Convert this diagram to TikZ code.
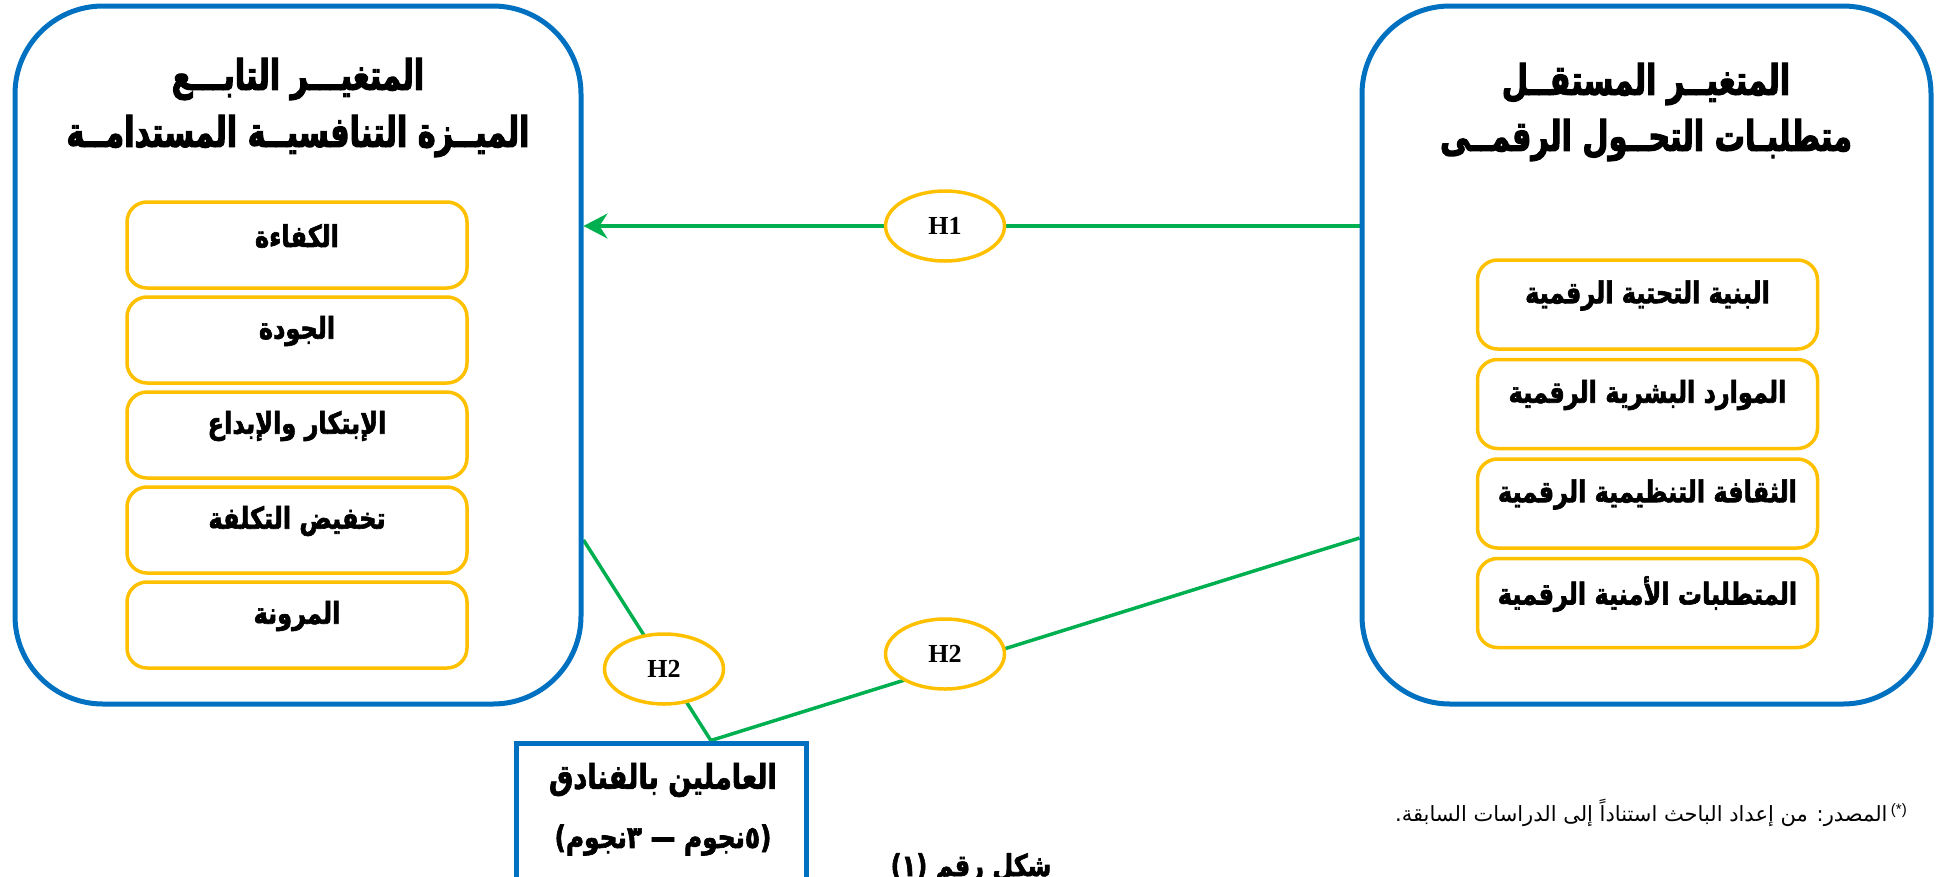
\documentclass[tikz,border=0pt]{standalone}
\usepackage{fontspec}
\setmainfont{Liberation Serif}
\newfontfamily\latinsans{Liberation Sans}
\newfontfamily\arabicfont[Script=Arabic]{DejaVu Sans}
\newfontfamily\arabicbox[Script=Arabic, BoldFeatures={FakeStretch=0.8, FakeBold=2}]{DejaVu Sans}
\newfontfamily\arabichead[Script=Arabic, BoldFeatures={FakeStretch=0.72, FakeBold=2.5}]{DejaVu Sans}
\usetikzlibrary{shapes.geometric,arrows.meta,calc,backgrounds}
\TeXXeTstate=1
\definecolor{frameblue}{RGB}{0,112,192}
\definecolor{gold}{RGB}{255,192,0}
\definecolor{linkgreen}{RGB}{0,176,80}
\newcommand{\artext}[1]{\beginR #1\endR}
\newcommand{\fsz}[1]{\fontsize{#1}{#1}\selectfont}

\begin{document}
\begin{tikzpicture}[x=1pt,y=-1pt,
  varbox/.style={draw=frameblue, line width=5pt, rounded corners=88pt,
    minimum width=566pt, minimum height=698pt, inner sep=0pt},
  dimbox/.style={draw=gold, line width=3.5pt, rounded corners=20pt,
    minimum width=340pt, inner sep=0pt, fill=white},
  dimtext/.style={font=\arabicbox\bfseries\fsz{30}, inner sep=0pt},
  titletext/.style={font=\arabichead\bfseries\fsz{42}, inner sep=0pt},
  hyp/.style={ellipse, draw=gold, line width=3.5pt, fill=white,
    minimum width=119pt, minimum height=70pt, inner sep=0pt,
    font=\bfseries\fsz{26}},
  link/.style={draw=linkgreen, line width=3.5pt},
  hotelbox/.style={draw=frameblue, line width=5pt, inner sep=0pt,
    minimum width=290pt, minimum height=160pt}
]
\useasboundingbox (0,0) rectangle (1937,876);

% dependent variable (left) and independent variable (right)
\node[varbox] (dep) at (298,355) {};
\node[varbox, minimum width=569pt] (ind) at (1646.5,355) {};

\node[titletext] (depT1) at (298,79) {\artext{المتغيـــر التابـــع}};
\node[titletext] (depT2) at (298,136) {\artext{الميــزة التنافسيــة المستدامــة}};
\node[titletext] (indT1) at (1646,84) {\artext{المتغيــر المستقــل}};
\node[titletext] (indT2) at (1646,140) {\artext{متطلبـات التحــول الرقمــى}};

% dimensions of the dependent variable
\foreach \i/\y/\t in {1/245/الكفاءة, 2/340/الجودة, 3/435/الإبتكار والإبداع,
                      4/530/تخفيض التكلفة, 5/625/المرونة} {
  \node[dimbox, minimum height=86pt] (d\i) at (297,\y) {};
  \node[dimtext] (d\i t) at ([yshift=9pt]d\i.center) {\artext{\t}};
}

% dimensions of the independent variable
\foreach \i/\y/\t in {1/304.5/البنية التحتية الرقمية, 2/404/الموارد البشرية الرقمية,
                      3/503.5/الثقافة التنظيمية الرقمية, 4/603/المتطلبات الأمنية الرقمية} {
  \node[dimbox, minimum height=89pt] (r\i) at (1647.5,\y) {};
  \node[dimtext] (r\i t) at ([yshift=9pt]r\i.center) {\artext{\t}};
}

% mediating group
\node[hotelbox] (hotel) at (661,823) {};
\node[font=\arabicbox\bfseries\fsz{34}, inner sep=0pt] (hotelT1) at (663,780)
  {\artext{العاملين بالفنادق}};
\node[font=\arabicbox\bfseries\fsz{31}, inner sep=0pt] (hotelT2) at (663,840)
  {\artext{(٥نجوم — ٣نجوم)}};

% hypothesis labels
\node[hyp] (h1) at (945,226) {H1};
\node[hyp] (h2a) at (664,669) {H2};
\node[hyp] (h2b) at (945,654) {H2};

% connector end points on the frames
\coordinate (jn) at ($(hotel.north west)!0.669!(hotel.north east)$);
\coordinate (depR) at ([yshift=-185pt]dep.east);
\coordinate (indL) at ([yshift=-183pt]ind.west);

\begin{pgfonlayer}{background}
  \draw[link, -{Stealth[length=24pt,width=25pt,inset=8pt]}]
    (ind.west |- h1.center) -- (dep.east |- h1.center);
  \draw[link] (depR) -- (jn) -- (indL);
\end{pgfonlayer}

% caption and source note
\node[font=\arabicbox\bfseries\fsz{30}, anchor=north, inner sep=0pt] (cap) at (971,853)
  {\artext{شكل رقم (١)}};
\node[font=\arabicfont\fsz{21}, anchor=east, inner sep=0pt] (src) at (1907,813)
  {\artext{المصدر: من إعداد الباحث استناداً إلى الدراسات السابقة.}\,\raisebox{7pt}{\latinsans\fsz{15}(*)}};
\end{tikzpicture}
\end{document}
